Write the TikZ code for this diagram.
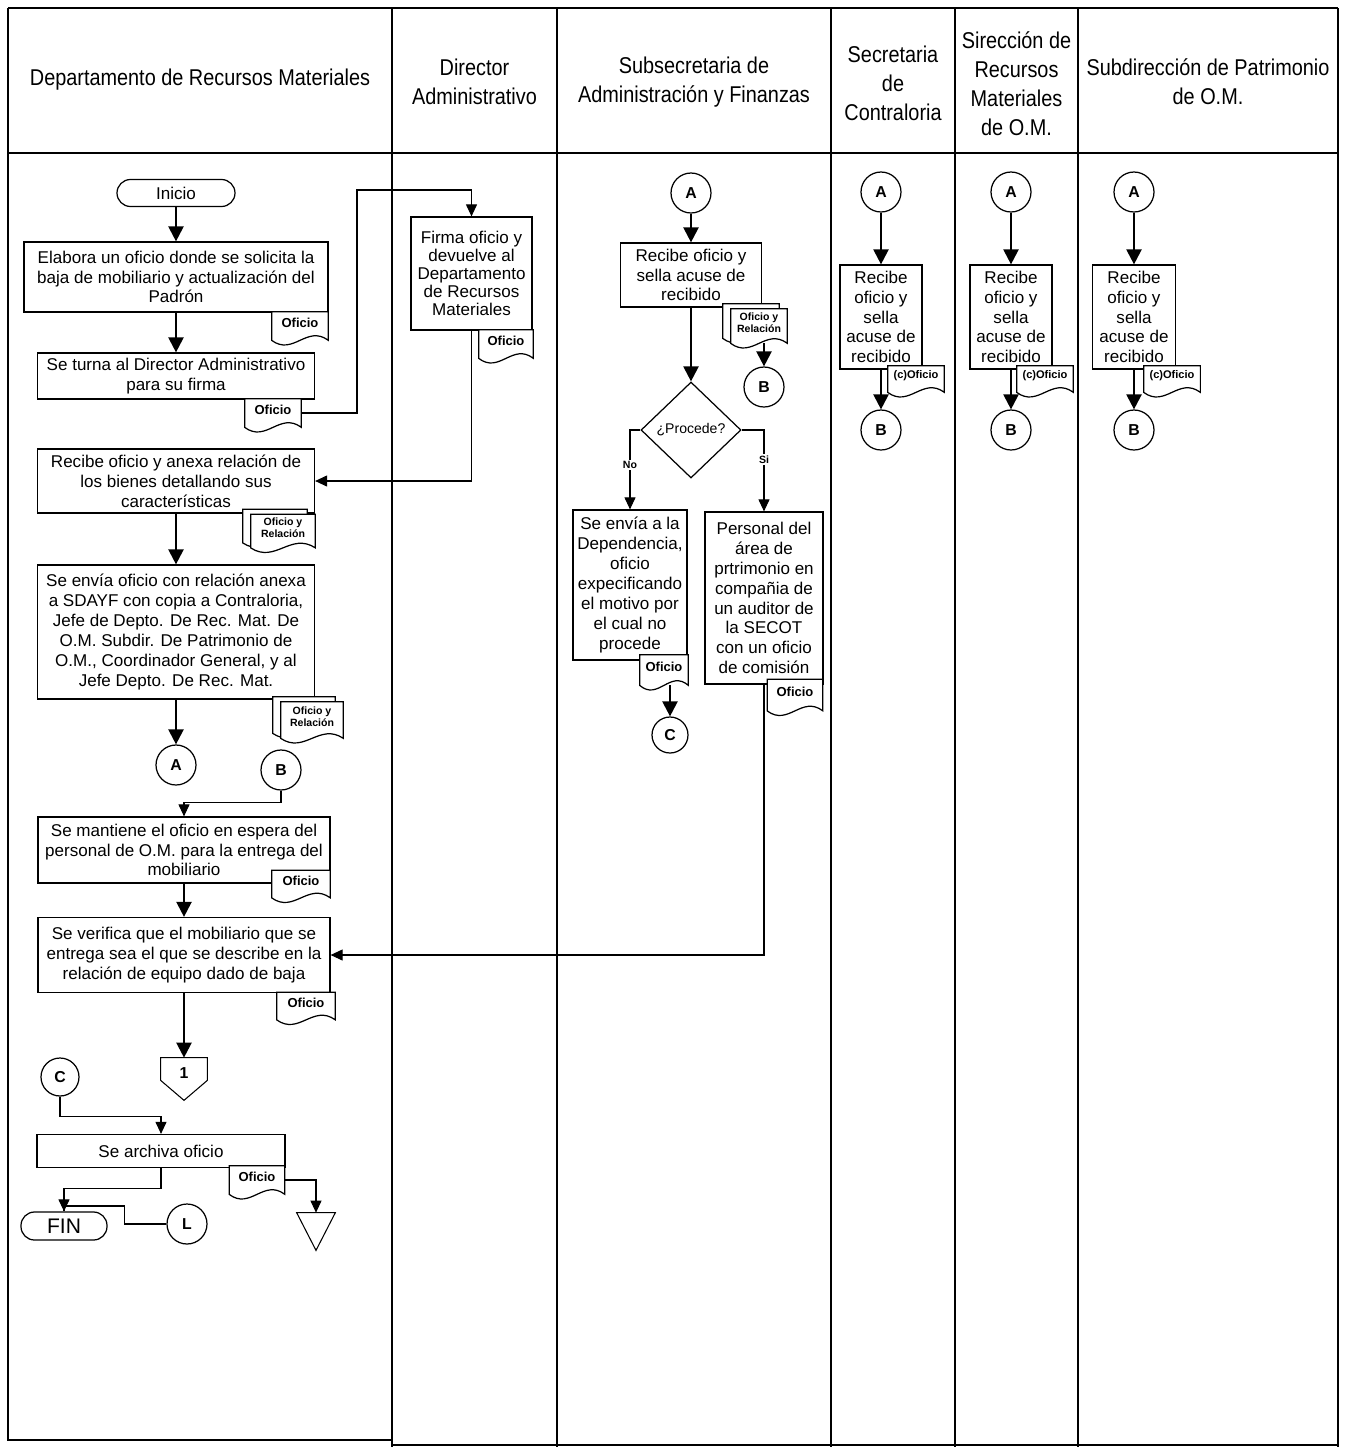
\documentclass[tikz,border=0pt]{standalone}
\usepackage{fontspec}
\setmainfont{Liberation Sans}
\newfontfamily\hdrfont[FakeStretch=0.87]{Liberation Sans}
\usetikzlibrary{arrows.meta,calc,shapes.geometric}

\tikzset{
  lane/.style={line width=0.8pt},
  hdr/.style={font=\hdrfont\fontsize{13}{16.5}\selectfont, align=center},
  sz/.style 2 args={minimum width=#1*0.02cm, minimum height=#2*0.02cm},
  proc/.style={draw, line width=0.7pt, fill=white, align=center, inner sep=1pt,
    font=\fontsize{9.7}{11.3}\selectfont},
  term/.style={draw, line width=0.7pt, rounded corners=0.27cm, inner sep=0pt},
  conn/.style={draw, circle, line width=0.7pt, fill=white, minimum size=0.8cm, inner sep=0pt,
    font=\fontsize{9}{10}\selectfont\bfseries},
  decis/.style={draw, diamond, line width=0.7pt, inner sep=0pt, font=\fontsize{8}{9}\selectfont},
  docarea/.style={inner sep=0pt},
  docline/.style={line width=0.7pt, fill=white},
  doctxt/.style={inner sep=0pt, align=center, font=\fontsize{7.4}{8}\selectfont\bfseries},
  stacktxt/.style={inner sep=0pt, align=center, font=\fontsize{6}{7}\selectfont\bfseries},
  flow/.style={-{Triangle[length=0.3cm,width=0.3cm]}, line width=1.3pt},
  link/.style={-{Triangle[length=0.24cm,width=0.22cm]}, line width=0.6pt},
  wire/.style={line width=0.6pt},
  yn/.style={fill=white, inner sep=1pt, font=\fontsize{6}{7}\selectfont\bfseries}
}

% document symbol drawn round an empty node
\newcommand{\docpath}[1]{%
  \draw[docline] (#1.south west) -- (#1.north west) -- (#1.north east) -- (#1.south east)
    .. controls ($(#1.south west)!0.62!(#1.south east)+(0,-16)$)
    and ($(#1.south west)!0.38!(#1.south east)+(0,16)$) .. (#1.south west) -- cycle;}
% name, x, y, width, height, text
\newcommand{\docu}[6]{%
  \node[docarea, sz={#4}{#5}] (#1) at (#2,#3) {};
  \docpath{#1}
  \node[doctxt] (#1t) at ([yshift=2pt]#1.center) {#6};}
\newcommand{\docstack}[6]{%
  \node[docarea, sz={#4}{#5}] (#1b) at (#2-8,#3-5) {};
  \node[docarea, sz={#4}{#5}] (#1) at (#2,#3) {};
  \docpath{#1b}
  \docpath{#1}
  \node[stacktxt] (#1t) at ([yshift=2pt]#1.center) {#6};}

\begin{document}
\begin{tikzpicture}[x=0.02cm,y=-0.02cm]
\useasboundingbox (0,0) rectangle (1348,1447);

% lanes
\draw[lane] (8,8) -- (1338,8) (8,153) -- (1338,153);
\draw[lane] (8,8) -- (8,1440) -- (392,1440) (392,1445) -- (1338,1445);
\draw[lane] (392,8) -- (392,1447) (557,8) -- (557,1447) (831,8) -- (831,1447)
  (955,8) -- (955,1447) (1078,8) -- (1078,1447) (1338,8) -- (1338,1447);

\node[hdr] (hdep) at (200,80) {Departamento de Recursos Materiales};
\node[hdr] (hdir) at (474.5,82) {Director\\Administrativo};
\node[hdr] (hsub) at (694,82) {Subsecretaria de\\Administración y Finanzas};
\node[hdr] (hsec) at (893,83) {Secretaria\\de\\Contraloria};
\node[hdr] (hsir) at (1016.5,84) {Sirección de\\Recursos\\Materiales\\de O.M.};
\node[hdr] (hpat) at (1208,82) {Subdirección de Patrimonio\\de O.M.};

% Departamento de Recursos Materiales
\node[term, sz={118}{27}, font=\fontsize{9.7}{11}\selectfont] (ini) at (176,193) {Inicio};
\node[proc, sz={304}{70}] (b1) at (176,277) {Elabora un oficio donde se solicita la\\baja de mobiliario y actualización del\\Padrón};
\docu{d1}{300}{326}{56}{28}{Oficio}
\node[proc, sz={277}{46}] (b2) at (176,376) {Se turna al Director Administrativo\\para su firma};
\docu{d2}{273}{413}{56}{28}{Oficio}
\coordinate (j1) at (357,190);
\node[proc, sz={277}{64}] (b3) at (176,481) {Recibe oficio y anexa relación de\\los bienes detallando sus\\características};
\docstack{d3}{283}{531}{64}{33}{Oficio y\\Relación}
\node[proc, sz={277}{134}] (b4) at (176,632) {Se envía oficio con relación anexa\\a SDAYF con copia a Contraloria,\\Jefe de Depto. De Rec. Mat. De\\O.M. Subdir. De Patrimonio de\\O.M., Coordinador General, y al\\Jefe Depto. De Rec. Mat.};
\docstack{d4}{312}{720}{62}{36}{Oficio y\\Relación}
\node[conn] (A1) at (176,765) {A};
\node[conn] (B1) at (281,770) {B};
\node[proc, sz={292}{66}] (b5) at (184,850) {Se mantiene el oficio en espera del\\personal de O.M. para la entrega del\\mobiliario};
\docu{d5}{301}{884}{58}{27}{Oficio}
\node[proc, sz={292}{75}] (b6) at (184,955) {Se verifica que el mobiliario que se\\entrega sea el que se describe en la\\relación de equipo dado de baja};
\docu{d6}{306}{1006}{58}{27}{Oficio}
\node[inner sep=0pt, sz={46}{30}, font=\fontsize{9}{10}\selectfont\bfseries] (off1) at (184,1073) {1};
\draw[wire] (off1.north west) -- (off1.north east) -- ($(off1.south east)+(0,-8)$)
  -- ($(off1.south)+(0,12)$) -- ($(off1.south west)+(0,-8)$) -- cycle;
\node[conn, minimum size=0.76cm] (C1) at (60,1077) {C};
\node[proc, sz={248}{33}] (b7) at (161,1151) {Se archiva oficio};
\docu{d7}{257}{1180}{55}{28}{Oficio}
\node[term, sz={86}{28}, font=\fontsize{12}{13}\selectfont] (fin) at (64,1226) {FIN};
\node[conn] (L) at (187,1224) {L};
\node[inner sep=0pt, sz={38}{37}] (arch) at (316,1231.5) {};
\draw[wire] (arch.north west) -- (arch.north east) -- (arch.south) -- cycle;

% Director Administrativo
\node[proc, sz={121}{113}, font=\fontsize{9.7}{10.2}\selectfont] (firma) at (471.5,273.5) {Firma oficio y\\devuelve al\\Departamento\\de Recursos\\Materiales};
\docu{dF}{506}{344}{54}{28}{Oficio}

% Subsecretaria de Administracion y Finanzas
\node[conn] (A2) at (691,193) {A};
\node[proc, sz={141}{64}] (sr) at (691,275) {Recibe oficio y\\sella acuse de\\recibido};
\docstack{d8}{759}{326}{56}{34}{Oficio y\\Relación}
\node[conn] (B2) at (764,387) {B};
\node[decis, sz={100}{96}] (dia) at (691,430) {¿Procede?};
\node[proc, sz={114}{150}] (no) at (630,585) {Se envía a la\\Dependencia,\\oficio\\expecificando\\el motivo por\\el cual no\\procede};
\docu{dNo}{664}{670}{48}{30}{Oficio}
\node[conn, minimum size=0.72cm] (C2) at (670,735) {C};
\node[proc, sz={118}{172}] (si) at (764,598) {Personal del\\área de\\prtrimonio en\\compañia de\\un auditor de\\la SECOT\\con un oficio\\de comisión};
\docu{dSi}{795}{695}{55}{31}{Oficio}

% Contraloria, Direccion y Subdireccion de O.M.
\node[conn] (A3) at (881,192) {A};
\node[proc, sz={82}{104}] (rc1) at (881,317) {Recibe\\oficio y\\sella\\acuse de\\recibido};
\docu{dc1}{916}{379}{56}{26}{\fontsize{6.3}{7}\selectfont(c)Oficio}
\node[conn] (B3) at (881,430) {B};
\node[conn] (A4) at (1011,192) {A};
\node[proc, sz={82}{104}] (rc2) at (1011,317) {Recibe\\oficio y\\sella\\acuse de\\recibido};
\docu{dc2}{1045}{379}{56}{26}{\fontsize{6.3}{7}\selectfont(c)Oficio}
\node[conn] (B4) at (1011,430) {B};
\node[conn] (A5) at (1134,192) {A};
\node[proc, sz={83}{104}] (rc3) at (1134,317) {Recibe\\oficio y\\sella\\acuse de\\recibido};
\docu{dc3}{1172}{379}{56}{26}{\fontsize{6.3}{7}\selectfont(c)Oficio}
\node[conn] (B5) at (1134,430) {B};

% connectors
\draw[flow] (ini) -- (b1);
\draw[flow] (b1) -- (b2);
\draw[link] (d2.east) -| (j1) -| (firma.north);
\draw[link] (firma.south) |- (b3.east);
\draw[flow] (b3) -- (b4);
\draw[flow] (b4) -- (A1);
\draw[link] (B1.south) -- ++(0,12) -| (b5.north);
\draw[flow] (b5) -- (b6);
\draw[flow] (b6.south) -- (off1.north);
\draw[link] (C1.south) -- ++(0,20) -| (b7.north);
\draw[link] (b7.south) -- ++(0,20) -| (fin.north);
\draw[wire] (L.west) -- ++(-42,0) -- ++(0,-18) -| (fin.north);
\draw[link] (d7.east) -| (arch.north);
\draw[flow] (A2) -- (sr);
\draw[flow] (B2.north |- d8.south) -- (B2.north);
\draw[flow] (sr) -- (dia);
\draw[link] (dia.west) -| node[yn, pos=0.72] {No} (no.north);
\draw[link] (dia.east) -| node[yn, pos=0.68] {Si} (si.north);
\draw[flow] (C2.north |- dNo.south) -- (C2.north);
\draw[link] (si.south) |- (b6.east);
\draw[flow] (A3) -- (rc1);
\draw[flow] (rc1) -- (B3);
\draw[flow] (A4) -- (rc2);
\draw[flow] (rc2) -- (B4);
\draw[flow] (A5) -- (rc3);
\draw[flow] (rc3) -- (B5);
\end{tikzpicture}
\end{document}
